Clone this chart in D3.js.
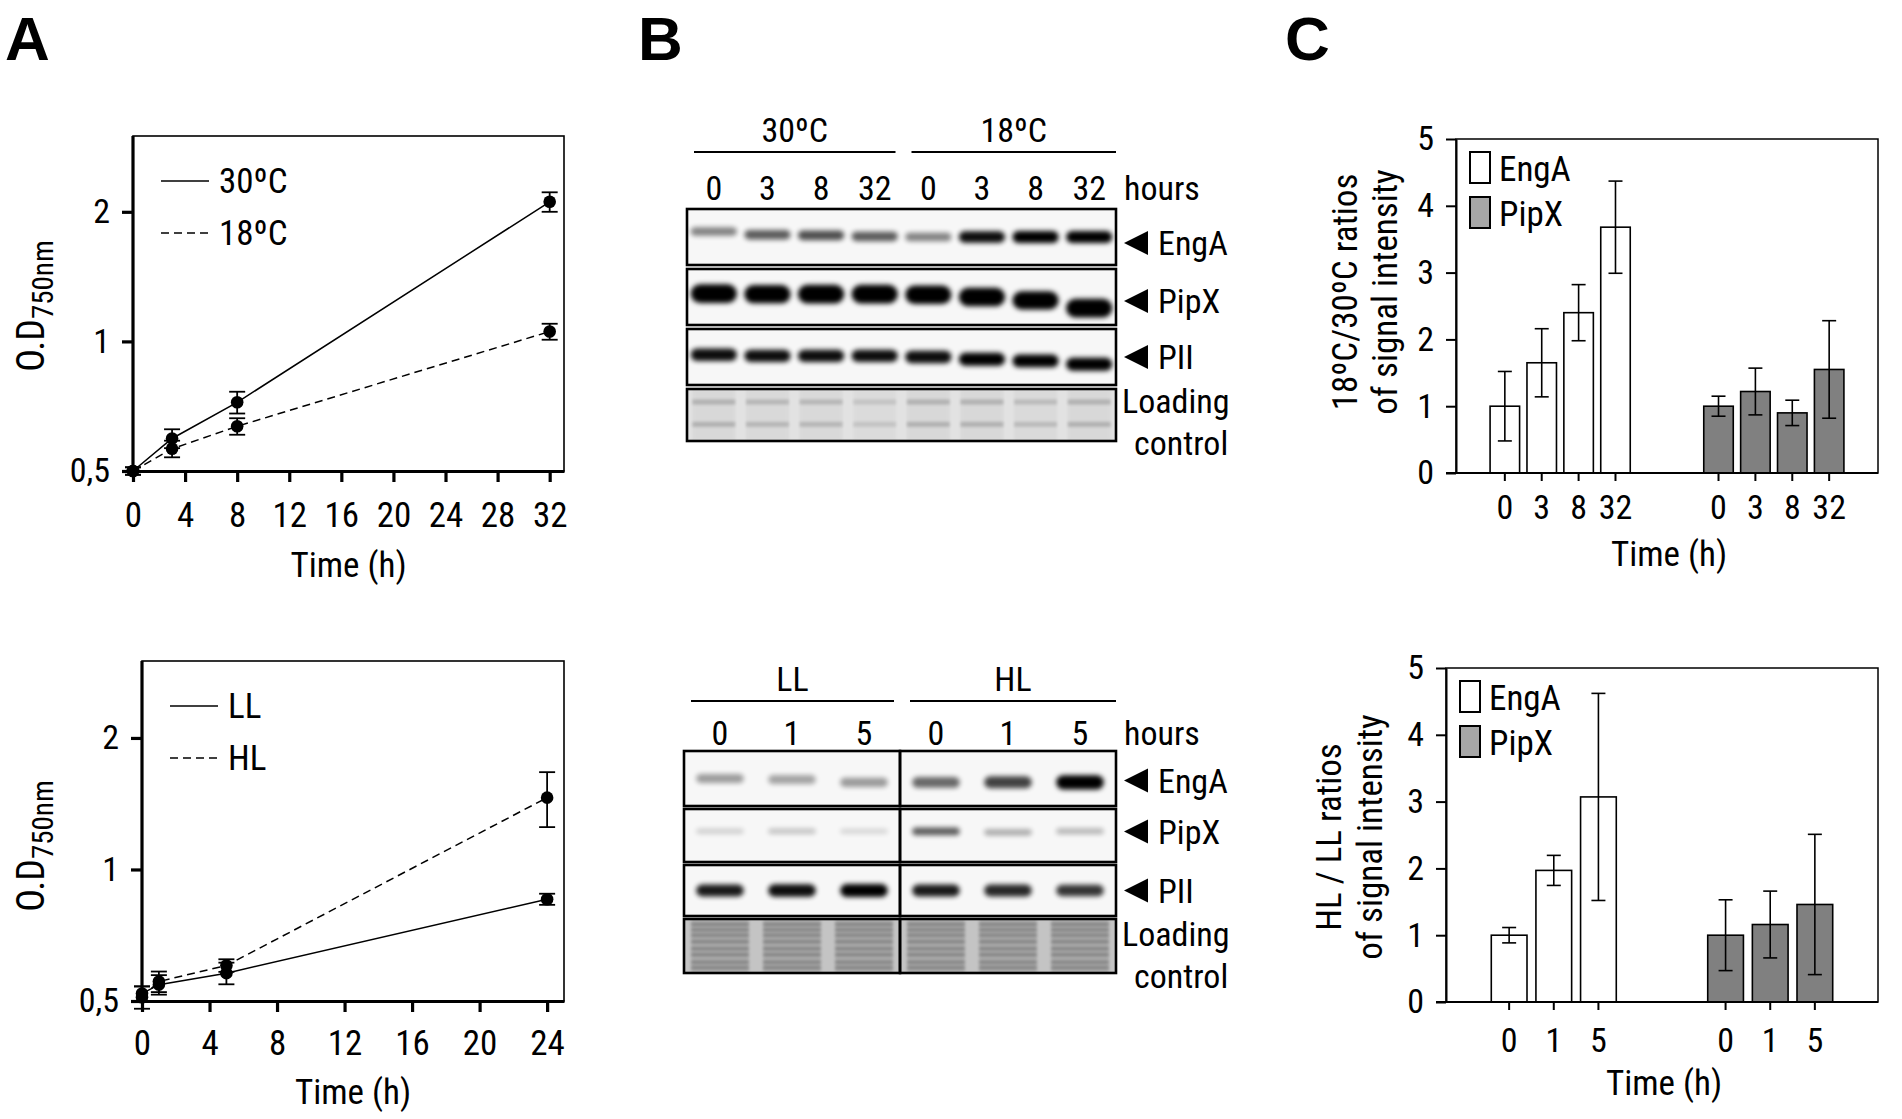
<!DOCTYPE html>
<html>
<head>
<meta charset="utf-8">
<script src="https://cdn.jsdelivr.net/npm/d3@7"></script>
<style>
body { margin: 0; background: #fff; }
text { font-family: 'Liberation Sans Narrow', 'Arial Narrow', 'Roboto Condensed', sans-serif; fill: #000; }
text.panel { font-family: 'Liberation Sans', Arial, sans-serif; font-weight: bold; }
</style>
</head>
<body>
<div id="fig"></div>
<script>
// ---- A: growth curves (O.D 750nm, log scale) ----
var tempTimes = [0, 3, 8, 32];
var od30 = [0.5, 0.595, 0.722, 2.11];
var od30Err = [0.01, 0.03, 0.042, 0.11];
var od18 = [0.5, 0.563, 0.635, 1.054];
var od18Err = [0.01, 0.025, 0.028, 0.045];
var tempTicks = [0, 4, 8, 12, 16, 20, 24, 28, 32];

var lightTimes = [0, 1, 5, 24];
var odLL = [0.52, 0.545, 0.579, 0.855];
var odLLErr = [0.02, 0.028, 0.033, 0.025];
var odHL = [0.51, 0.554, 0.603, 1.46];
var odHLErr = [0.03, 0.03, 0.02, 0.21];
var lightTicks = [0, 4, 8, 12, 16, 20, 24];

var odTicks = [0.5, 1, 2];

// ---- B: western blots (band intensity 0..1, relative mobility in the strip) ----
var tempGroups = ["30ºC", "18ºC"];
var tempLanes = ["0", "3", "8", "32", "0", "3", "8", "32"];
var tempEngA = [0.45, 0.6, 0.65, 0.6, 0.45, 0.9, 0.95, 1.0];
var tempEngARf = [0.4, 0.46, 0.47, 0.49, 0.5, 0.5, 0.5, 0.5];
var tempPipX = [1.0, 0.95, 1.0, 1.0, 1.0, 1.0, 0.95, 1.0];
var tempPipXRf = [0.44, 0.45, 0.45, 0.45, 0.46, 0.5, 0.56, 0.7];
var tempPII = [0.9, 0.9, 0.9, 0.9, 0.9, 0.95, 0.95, 0.95];
var tempPIIRf = [0.46, 0.48, 0.48, 0.48, 0.5, 0.54, 0.57, 0.63];
var tempLoad = [0.5, 0.45, 0.45, 0.3, 0.5, 0.5, 0.4, 0.5];
var tempLoadRf = [0.25, 0.68];

var lightGroups = ["LL", "HL"];
var lightLanes = ["0", "1", "5", "0", "1", "5"];
var lightEngA = [0.35, 0.32, 0.36, 0.55, 0.7, 1.0];
var lightEngARf = [0.5, 0.52, 0.57, 0.57, 0.57, 0.57];
var lightPipX = [0.15, 0.2, 0.13, 0.6, 0.3, 0.25];
var lightPipXRf = [0.42, 0.42, 0.42, 0.42, 0.44, 0.42];
var lightPII = [0.85, 0.9, 0.95, 0.85, 0.8, 0.75];
var lightPIIRf = [0.5, 0.5, 0.5, 0.5, 0.5, 0.5];
var lightLoad = [0.75, 0.75, 0.75, 0.75, 0.75, 0.75];
var lightLoadRf = [0.1, 0.2, 0.3, 0.42, 0.55, 0.66, 0.8, 0.9];

// ---- C: ratios of signal intensity ----
var proteins = ["EngA", "PipX"];
var tempRatioTimes = ["0", "3", "8", "32"];
var engaTemp = [1.0, 1.65, 2.4, 3.68];
var engaTempErr = [0.52, 0.51, 0.42, 0.69];
var pipxTemp = [1.0, 1.22, 0.9, 1.55];
var pipxTempErr = [0.15, 0.35, 0.19, 0.73];

var lightRatioTimes = ["0", "1", "5"];
var engaLight = [1.0, 1.97, 3.07];
var engaLightErr = [0.115, 0.225, 1.55];
var pipxLight = [1.0, 1.16, 1.46];
var pipxLightErr = [0.53, 0.5, 1.05];

var ratioTicks = [0, 1, 2, 3, 4, 5];


var svg = d3.select("#fig").append("svg")
    .attr("width", 1902)
    .attr("height", 1119);

svg.append("rect").attr("width", 1902).attr("height", 1119).attr("fill", "#fff");

var defs = svg.append("defs");
defs.append("filter").attr("id", "blur").attr("x", "-30%").attr("y", "-100%")
    .attr("width", "160%").attr("height", "300%")
    .append("feGaussianBlur").attr("stdDeviation", 2.6);
defs.append("filter").attr("id", "blurSoft").attr("x", "-30%").attr("y", "-100%")
    .attr("width", "160%").attr("height", "300%")
    .append("feGaussianBlur").attr("stdDeviation", 1.4);

function styleAxis(g, lw, fs) {
    g.attr("font-family", null).attr("font-size", null);
    g.select(".domain").attr("stroke-width", lw);
    g.selectAll(".tick line").attr("stroke-width", lw);
    g.selectAll(".tick text").attr("font-size", fs);
}

function panelLabel(txt, x) {
    svg.append("text").attr("class", "panel")
        .attr("x", x).attr("y", 60)
        .attr("font-size", 62)
        .text(txt);
}

panelLabel("A", 5);
panelLabel("B", 638);
panelLabel("C", 1285);


// ---------- A ----------
function growthPlot(o) {
    var g = svg.append("g");
    var x = d3.scaleLinear().domain([0, o.xMax]).range([o.left, o.right]);
    var y = d3.scaleLog().base(2).domain([0.5, 3]).range([o.bottom, o.top]);

    g.append("rect")
        .attr("x", o.left).attr("y", o.top)
        .attr("width", o.right - o.left).attr("height", o.bottom - o.top)
        .attr("fill", "none").attr("stroke", "#000").attr("stroke-width", 1.6);

    var xg = g.append("g")
        .attr("transform", "translate(0," + o.bottom + ")")
        .call(d3.axisBottom(x).tickValues(o.xTicks).tickSize(11).tickSizeOuter(0).tickPadding(o.xPad));
    styleAxis(xg, 3.2, 35);

    var yg = g.append("g")
        .attr("transform", "translate(" + o.left + ",0)")
        .call(d3.axisLeft(y).tickValues(odTicks).tickSize(11).tickSizeOuter(0).tickPadding(12)
            .tickFormat(function(d) { return d === 0.5 ? "0,5" : d; }));
    styleAxis(yg, 3.2, 34);
    yg.select(".domain").attr("d", "M0," + o.bottom + "V" + o.top);

    o.series.forEach(function(s) {
        var pts = o.times.map(function(t, i) { return { t: t, v: s.v[i], e: s.e[i] }; });
        g.append("path")
            .datum(pts)
            .attr("fill", "none").attr("stroke", "#000").attr("stroke-width", 1.5)
            .attr("stroke-dasharray", s.dash)
            .attr("d", d3.line().x(function(d) { return x(d.t); }).y(function(d) { return y(d.v); }));

        var eb = g.selectAll(null).data(pts).enter().append("g").attr("stroke", "#000").attr("stroke-width", 1.8);
        eb.append("line")
            .attr("x1", function(d) { return x(d.t); }).attr("x2", function(d) { return x(d.t); })
            .attr("y1", function(d) { return y(d.v - d.e); }).attr("y2", function(d) { return y(d.v + d.e); });
        eb.append("line")
            .attr("x1", function(d) { return x(d.t) - 8; }).attr("x2", function(d) { return x(d.t) + 8; })
            .attr("y1", function(d) { return y(d.v + d.e); }).attr("y2", function(d) { return y(d.v + d.e); });
        eb.append("line")
            .attr("x1", function(d) { return x(d.t) - 8; }).attr("x2", function(d) { return x(d.t) + 8; })
            .attr("y1", function(d) { return y(d.v - d.e); }).attr("y2", function(d) { return y(d.v - d.e); });

        g.selectAll(null).data(pts).enter().append("circle")
            .attr("cx", function(d) { return x(d.t); })
            .attr("cy", function(d) { return y(d.v); })
            .attr("r", 6.3).attr("fill", "#000");
    });

    // legend
    o.series.forEach(function(s, i) {
        var ly = o.top + 45 + i * 52;
        g.append("line")
            .attr("x1", o.left + 28).attr("x2", o.left + 76)
            .attr("y1", ly).attr("y2", ly)
            .attr("stroke", "#000").attr("stroke-width", 1.6)
            .attr("stroke-dasharray", s.dash);
        g.append("text")
            .attr("x", o.left + 86).attr("y", ly + 12)
            .attr("font-size", 35)
            .text(s.label);
    });

    var xc = (o.left + o.right) / 2;
    g.append("text")
        .attr("x", xc).attr("y", o.bottom + o.titleDy)
        .attr("text-anchor", "middle").attr("font-size", 35)
        .text("Time (h)");

    var yl = g.append("text")
        .attr("transform", "translate(" + o.yLabelX + "," + o.yLabelY + ") rotate(-90)")
        .attr("text-anchor", "middle").attr("font-size", 38);
    yl.append("tspan").text("O.D");
    yl.append("tspan").attr("font-size", 29).attr("dy", 9).text("750nm");
}

growthPlot({
    left: 133, right: 564, top: 136, bottom: 471, xMax: 33.1,
    xTicks: tempTicks, times: tempTimes, xPad: 20, titleDy: 106,
    yLabelX: 44, yLabelY: 306,
    series: [
        { v: od30, e: od30Err, dash: null, label: "30ºC" },
        { v: od18, e: od18Err, dash: "8,5", label: "18ºC" }
    ]
});

growthPlot({
    left: 142, right: 564, top: 661, bottom: 1001, xMax: 25,
    xTicks: lightTicks, times: lightTimes, xPad: 18, titleDy: 103,
    yLabelX: 44, yLabelY: 846,
    series: [
        { v: odLL, e: odLLErr, dash: null, label: "LL" },
        { v: odHL, e: odHLErr, dash: "8,5", label: "HL" }
    ]
});


// ---------- B ----------
var clipId = 0;

function blot(o) {
    var g = svg.append("g");
    var lx = d3.scaleBand().domain(d3.range(o.lanes.length)).range([o.left, o.right]);
    var half = o.lanes.length / 2;
    var mid = lx(half);

    // condition labels with rules
    o.groups.forEach(function(name, gi) {
        var x0 = gi === 0 ? o.left + 7 : mid + 10;
        var x1 = gi === 0 ? mid - 6 : o.right;
        g.append("line")
            .attr("x1", x0).attr("x2", x1).attr("y1", o.ruleY).attr("y2", o.ruleY)
            .attr("stroke", "#000").attr("stroke-width", 2);
        g.append("text")
            .attr("x", (x0 + x1) / 2).attr("y", o.ruleY - 10)
            .attr("text-anchor", "middle").attr("font-size", 34)
            .text(name);
    });

    g.selectAll(null).data(o.lanes).enter().append("text")
        .attr("x", function(d, i) { return lx(i) + lx.bandwidth() / 2; })
        .attr("y", o.hoursY)
        .attr("text-anchor", "middle").attr("font-size", 34)
        .text(function(d) { return d; });
    g.append("text")
        .attr("x", o.right + 8).attr("y", o.hoursY)
        .attr("font-size", 34).text("hours");

    o.rows.forEach(function(r) {
        var h = r.bottom - r.top;
        var id = "clip" + (clipId++);
        defs.append("clipPath").attr("id", id)
            .append("rect").attr("x", o.left).attr("y", r.top)
            .attr("width", o.right - o.left).attr("height", h);
        var rg = g.append("g").attr("clip-path", "url(#" + id + ")");

        if (r.loading) {
            rg.append("rect").attr("x", o.left).attr("y", r.top)
                .attr("width", o.right - o.left).attr("height", h)
                .attr("fill", r.bg);
            // lane smear
            rg.selectAll(null).data(r.intens).enter().append("rect")
                .attr("x", function(d, i) { return lx(i) + lx.bandwidth() * 0.1; })
                .attr("y", r.top)
                .attr("width", lx.bandwidth() * 0.8).attr("height", h)
                .attr("fill", "#000")
                .attr("opacity", function(d) { return d * r.smear; })
                .attr("filter", "url(#blurSoft)");
            r.intens.forEach(function(v, i) {
                rg.selectAll(null).data(r.rf).enter().append("rect")
                    .attr("x", lx(i) + lx.bandwidth() * 0.1)
                    .attr("y", function(f) { return r.top + f * h - r.thick / 2; })
                    .attr("width", lx.bandwidth() * 0.8).attr("height", r.thick)
                    .attr("fill", "#000").attr("opacity", v * r.stripe)
                    .attr("filter", "url(#blurSoft)");
            });
        } else {
            rg.append("rect").attr("x", o.left).attr("y", r.top)
                .attr("width", o.right - o.left).attr("height", h)
                .attr("fill", "#f7f7f7");
            rg.selectAll(null).data(r.intens).enter().append("rect")
                .attr("x", function(d, i) { return lx(i) + lx.bandwidth() * (1 - o.bandFrac) / 2; })
                .attr("y", function(d, i) { return r.top + r.rf[i] * h - (r.thick * (0.5 + d * 0.6)) / 2; })
                .attr("width", lx.bandwidth() * o.bandFrac)
                .attr("height", function(d) { return r.thick * (0.5 + d * 0.6); })
                .attr("rx", function(d) { return r.thick * (0.5 + d * 0.6) / 2; })
                .attr("fill", "#000")
                .attr("opacity", function(d) { return Math.min(1, d * 1.05); })
                .attr("filter", "url(#blur)");
        }

        // frames
        var frames = o.split ? [[o.left, mid], [mid, o.right]] : [[o.left, o.right]];
        frames.forEach(function(f) {
            g.append("rect")
                .attr("x", f[0]).attr("y", r.top)
                .attr("width", f[1] - f[0]).attr("height", h)
                .attr("fill", "none").attr("stroke", "#000").attr("stroke-width", 2.6);
        });

        // row label
        var cy = (r.top + r.bottom) / 2 + (r.labelDy || 0);
        if (r.loading) {
            g.append("text").attr("x", o.right + 6).attr("y", cy)
                .attr("font-size", 34).text("Loading");
            g.append("text").attr("x", o.right + 18).attr("y", cy + 42)
                .attr("font-size", 34).text("control");
        } else {
            var tx = o.right + 8;
            g.append("path")
                .attr("d", "M" + (tx + 24) + "," + (cy - 12) + "L" + tx + "," + cy + "L" + (tx + 24) + "," + (cy + 12) + "Z")
                .attr("fill", "#000");
            g.append("text").attr("x", tx + 34).attr("y", cy + 12)
                .attr("font-size", 34).text(r.name);
        }
    });
}

blot({
    left: 687, right: 1116, ruleY: 152, hoursY: 200, split: false, bandFrac: 0.86,
    groups: tempGroups, lanes: tempLanes,
    rows: [
        { name: "EngA", top: 209, bottom: 265, intens: tempEngA, rf: tempEngARf, thick: 11, labelDy: 6 },
        { name: "PipX", top: 269, bottom: 325, intens: tempPipX, rf: tempPipXRf, thick: 17, labelDy: 4 },
        { name: "PII", top: 329, bottom: 385, intens: tempPII, rf: tempPIIRf, thick: 12, labelDy: 0 },
        { name: "Loading", top: 389, bottom: 441, loading: true, intens: tempLoad, rf: tempLoadRf,
          bg: "#e2e2e2", smear: 0.08, stripe: 0.35, thick: 5, labelDy: -2 }
    ]
});

blot({
    left: 684, right: 1116, ruleY: 701, hoursY: 745, split: true, bandFrac: 0.66,
    groups: lightGroups, lanes: lightLanes,
    rows: [
        { name: "EngA", top: 751, bottom: 806, intens: lightEngA, rf: lightEngARf, thick: 13, labelDy: 2 },
        { name: "PipX", top: 809, bottom: 862, intens: lightPipX, rf: lightPipXRf, thick: 9, labelDy: -4 },
        { name: "PII", top: 865, bottom: 916, intens: lightPII, rf: lightPIIRf, thick: 12, labelDy: 0 },
        { name: "Loading", top: 919, bottom: 973, loading: true, intens: lightLoad, rf: lightLoadRf,
          bg: "#c4c4c4", smear: 0.18, stripe: 0.3, thick: 3, labelDy: 0 }
    ]
});


// ---------- C ----------
function ratioPlot(o) {
    var g = svg.append("g");
    var y = d3.scaleLinear().domain([0, 5]).range([o.bottom, o.top]);
    var gx = d3.scaleBand().domain(proteins).range([o.left, o.right])
        .paddingInner(o.padIn).paddingOuter(o.padOut);
    var tx = d3.scaleBand().domain(o.times).range([0, gx.bandwidth()]).padding(0.2);

    g.append("rect")
        .attr("x", o.left).attr("y", o.top)
        .attr("width", o.right - o.left).attr("height", o.bottom - o.top)
        .attr("fill", "none").attr("stroke", "#000").attr("stroke-width", 1.5);

    var yg = g.append("g")
        .attr("transform", "translate(" + o.left + ",0)")
        .call(d3.axisLeft(y).tickValues(ratioTicks).tickSize(10).tickSizeOuter(0).tickPadding(12)
            .tickFormat(d3.format("d")));
    styleAxis(yg, 2, 34);

    var series = [
        { name: "EngA", v: o.enga, e: o.engaErr, fill: "#fff" },
        { name: "PipX", v: o.pipx, e: o.pipxErr, fill: "#808080" }
    ];

    var ticks = [];
    series.forEach(function(s) {
        var pts = o.times.map(function(t, i) {
            var cx = gx(s.name) + tx(t) + tx.bandwidth() / 2;
            ticks.push({ x: cx, t: t });
            return { t: t, v: s.v[i], e: s.e[i], cx: cx };
        });
        g.selectAll(null).data(pts).enter().append("rect")
            .attr("x", function(d) { return gx(s.name) + tx(d.t); })
            .attr("y", function(d) { return y(d.v); })
            .attr("width", tx.bandwidth())
            .attr("height", function(d) { return y(0) - y(d.v); })
            .attr("fill", s.fill).attr("stroke", "#000").attr("stroke-width", 1.6);

        var eb = g.selectAll(null).data(pts).enter().append("g").attr("stroke", "#000").attr("stroke-width", 1.6);
        eb.append("line")
            .attr("x1", function(d) { return d.cx; }).attr("x2", function(d) { return d.cx; })
            .attr("y1", function(d) { return y(d.v - d.e); }).attr("y2", function(d) { return y(d.v + d.e); });
        eb.append("line")
            .attr("x1", function(d) { return d.cx - 7; }).attr("x2", function(d) { return d.cx + 7; })
            .attr("y1", function(d) { return y(d.v + d.e); }).attr("y2", function(d) { return y(d.v + d.e); });
        eb.append("line")
            .attr("x1", function(d) { return d.cx - 7; }).attr("x2", function(d) { return d.cx + 7; })
            .attr("y1", function(d) { return y(d.v - d.e); }).attr("y2", function(d) { return y(d.v - d.e); });
    });

    // x axis: one tick per bar
    var xa = g.append("g");
    xa.append("line")
        .attr("x1", o.left - 10).attr("x2", o.right)
        .attr("y1", o.bottom).attr("y2", o.bottom)
        .attr("stroke", "#000").attr("stroke-width", 2);
    xa.selectAll(null).data(ticks).enter().append("line")
        .attr("x1", function(d) { return d.x; }).attr("x2", function(d) { return d.x; })
        .attr("y1", o.bottom).attr("y2", o.bottom + 8)
        .attr("stroke", "#000").attr("stroke-width", 2);
    xa.selectAll(null).data(ticks).enter().append("text")
        .attr("x", function(d) { return d.x; })
        .attr("y", o.bottom + o.tickDy)
        .attr("text-anchor", "middle").attr("font-size", 34)
        .text(function(d) { return d.t; });

    g.append("text")
        .attr("x", (o.left + o.right) / 2 + 2).attr("y", o.bottom + o.titleDy)
        .attr("text-anchor", "middle").attr("font-size", 35)
        .text("Time (h)");

    // legend
    series.forEach(function(s, i) {
        var ly = o.top + 13 + i * 45;
        g.append("rect")
            .attr("x", o.left + 14).attr("y", ly)
            .attr("width", 20).attr("height", 31)
            .attr("fill", i === 0 ? "#fff" : "#a6a6a6")
            .attr("stroke", "#000").attr("stroke-width", 2);
        g.append("text")
            .attr("x", o.left + 43).attr("y", ly + 29)
            .attr("font-size", 35).text(s.name);
    });

    o.yLabel.forEach(function(line, i) {
        g.append("text")
            .attr("transform", "translate(" + o.yLabelX[i] + "," + o.yLabelY + ") rotate(-90)")
            .attr("text-anchor", "middle").attr("font-size", 35)
            .text(line);
    });
}

ratioPlot({
    left: 1456, right: 1878, top: 139, bottom: 473,
    padIn: 0.275, padOut: 0.125, times: tempRatioTimes,
    enga: engaTemp, engaErr: engaTempErr, pipx: pipxTemp, pipxErr: pipxTempErr,
    tickDy: 46, titleDy: 93,
    yLabel: ["18ºC/30ºC ratios", "of signal intensity"], yLabelX: [1357, 1397], yLabelY: 292
});

ratioPlot({
    left: 1446, right: 1878, top: 668, bottom: 1002,
    padIn: 0.34, padOut: 0.168, times: lightRatioTimes,
    enga: engaLight, engaErr: engaLightErr, pipx: pipxLight, pipxErr: pipxLightErr,
    tickDy: 50, titleDy: 93,
    yLabel: ["HL / LL ratios", "of signal intensity"], yLabelX: [1341, 1382], yLabelY: 837
});
</script>
</body>
</html>
